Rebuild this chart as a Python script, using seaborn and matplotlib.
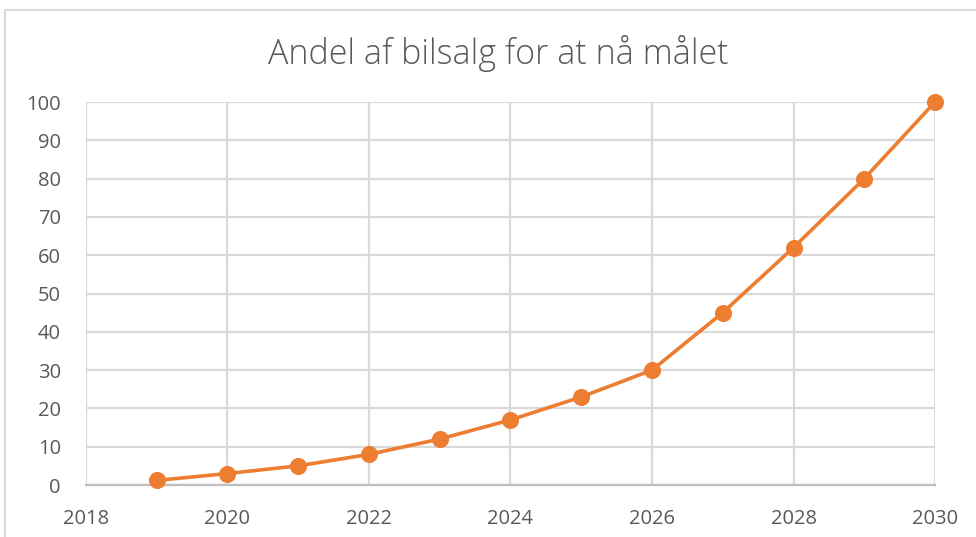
import matplotlib
matplotlib.use('Agg')
import matplotlib.pyplot as plt
import seaborn as sns
import pandas as pd
from matplotlib.lines import Line2D

# Chart data
years = [2019, 2020, 2021, 2022, 2023, 2024, 2025, 2026, 2027, 2028, 2029, 2030]
share = [1.2, 3, 5, 8, 12, 17, 23, 30, 45, 62, 80, 100]
x_ticks = [2018, 2020, 2022, 2024, 2026, 2028, 2030]
y_ticks = [0, 10, 20, 30, 40, 50, 60, 70, 80, 90, 100]
title = 'Andel af bilsalg for at nå målet'

line_color = '#ED7D31'
text_color = '#595959'
grid_color = '#D9D9D9'

sns.set_theme(style='white')
plt.rcParams['font.family'] = ['Open Sans', 'DejaVu Sans']

df = pd.DataFrame({'year': years, 'share': share})

fig = plt.figure(figsize=(9.76, 5.37), dpi=100)
ax = fig.add_axes([0.0881, 0.0968, 0.958 - 0.0881, 0.810 - 0.0968])

sns.lineplot(data=df, x='year', y='share', ax=ax, color=line_color,
             linewidth=2.6, marker='o', markersize=11.5,
             markeredgecolor=line_color, markerfacecolor=line_color, zorder=3)
for ln in ax.lines:
    ln.set_clip_on(False)

ax.set_xlim(x_ticks[0], x_ticks[-1])
ax.set_ylim(y_ticks[0], y_ticks[-1])
ax.set_xticks(x_ticks)
ax.set_yticks(y_ticks)
ax.set_xlabel('')
ax.set_ylabel('')

# gridlines like the spreadsheet chart
ax.grid(True, color=grid_color, linewidth=1.6)
for side in ['top', 'right', 'left']:
    ax.spines[side].set_visible(False)
ax.spines['bottom'].set_color('#BFBFBF')
ax.spines['bottom'].set_linewidth(1.6)
ax.tick_params(axis='both', length=0, labelsize=14.5, colors=text_color)
ax.tick_params(axis='x', pad=17)
ax.tick_params(axis='y', pad=18)
for lbl in ax.get_xticklabels() + ax.get_yticklabels():
    lbl.set_color(text_color)

fig.text(0.51, 0.900, title, ha='center', va='center', fontsize=24.5,
         color=text_color, fontweight='light')

# outer chart border (cropped on right and bottom)
fig.add_artist(Line2D([5 / 976, 5 / 976], [0, 1 - 10 / 537],
                      transform=fig.transFigure, color=grid_color, linewidth=1.5))
fig.add_artist(Line2D([5 / 976, 1], [1 - 10 / 537, 1 - 10 / 537],
                      transform=fig.transFigure, color=grid_color, linewidth=1.5))

fig.savefig('out.png', dpi=100)
